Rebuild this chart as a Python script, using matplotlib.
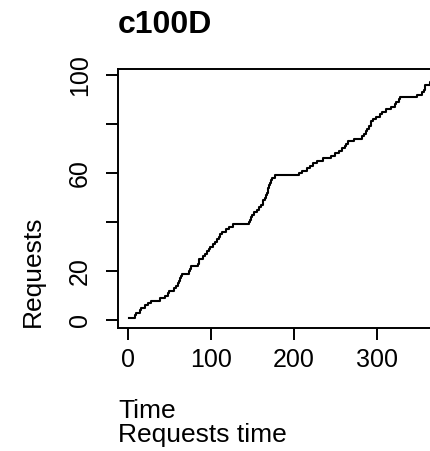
import matplotlib
matplotlib.use("Agg")
import matplotlib.pyplot as plt

plt.rcParams['font.family'] = ['Liberation Sans', 'DejaVu Sans']

# request arrival times
request_times = [1, 9, 10, 14, 16, 20, 24, 28, 38, 45,
                 48, 49, 55, 58, 60, 62, 63, 64, 65, 74,
                 75, 76, 84, 85, 86, 90, 93, 95, 97, 99,
                 102, 105, 107, 109, 111, 113, 118, 122, 126, 146,
                 147, 148, 149, 152, 155, 158, 160, 162, 163, 165,
                 166, 167, 168, 169, 170, 171, 172, 173, 177, 206,
                 210, 215, 219, 223, 227, 235, 244, 249, 254, 258,
                 261, 263, 265, 272, 282, 284, 286, 288, 290, 292,
                 293, 295, 299, 303, 306, 311, 317, 321, 323, 326,
                 328, 348, 354, 356, 357, 358, 363, 372, 380, 390]
request_count = list(range(1, len(request_times) + 1))

x_ticks = [0, 100, 200, 300]
y_ticks = [0, 20, 40, 60, 80, 100]
y_tick_labels = ['0', '20', '', '60', '', '100']

fig = plt.figure(figsize=(4.31, 4.51), dpi=100)
ax = fig.add_axes([118/431, 123/451, 334/431, 259/451])

ax.step(request_times, request_count, where='post', color='black', lw=1.5)

ax.set_xlim(-12, 390)
ax.set_ylim(-3.2, 102.4)
ax.set_xticks(x_ticks)
ax.set_yticks(y_ticks)
ax.set_yticklabels(y_tick_labels, rotation=90, va='center', ha='center')
ax.tick_params(axis='both', length=8.6, width=1.4, labelsize=18, direction='out')
ax.tick_params(axis='x', pad=6)
ax.tick_params(axis='y', pad=19)
for s in ax.spines.values():
    s.set_linewidth(1.4)

fig.text(118/431, 1 - 33/451, 'c100D', fontsize=23, fontweight='bold', ha='left', va='baseline')
fig.text(21/431, 1 - 327/451, 'Requests', fontsize=19, rotation=90, ha='left', va='bottom')
fig.text(118/431, 1 - 418/451, 'Time', fontsize=19, ha='left', va='baseline')
fig.text(118/431, 1 - 442/451, 'Requests time', fontsize=19, ha='left', va='baseline')

fig.savefig('out.png', dpi=100)
